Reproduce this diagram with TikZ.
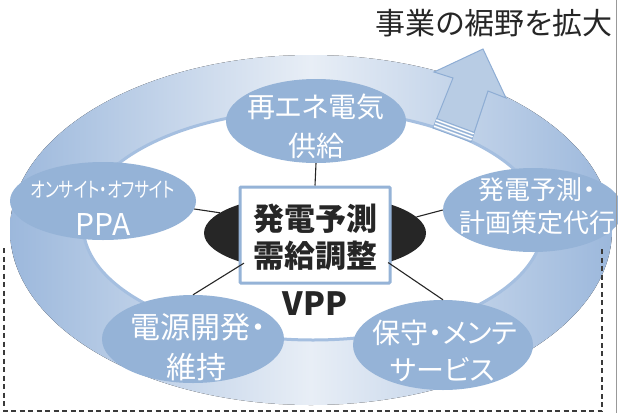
\documentclass[tikz,border=0pt]{standalone}
\usepackage{fontspec}
\usepackage{graphicx}
\setmainfont[RawFeature=+palt]{Noto Sans CJK JP}
\usetikzlibrary{shapes.geometric,calc}
\definecolor{satblue}{HTML}{95B3D7}
\definecolor{ringdark}{HTML}{9CB8DC}
\definecolor{ringlight}{HTML}{E8EEF6}
\definecolor{ringline}{HTML}{A5BFE0}
\definecolor{arrowfill}{HTML}{B8CCE4}
\definecolor{arrowline}{HTML}{8EADD4}
\definecolor{ink}{HTML}{262626}
\definecolor{frameink}{HTML}{3A3A3A}
\tikzset{
  sat/.style={shape=ellipse, fill=satblue, inner sep=0pt},
  conn/.style={draw=ink, line width=1.1pt},
  wt/.style={text=white, inner sep=0pt, anchor=center},
  bk/.style={text=ink, inner sep=0pt, anchor=center},
  frameline/.style={draw=frameink, line width=1.5pt, dash pattern=on 5pt off 3.5pt},
}
\begin{document}
\begin{tikzpicture}[x=1pt,y=-1pt]
\useasboundingbox (0,0) rectangle (618,413);
% ring
\fill[left color=ringdark, right color=ringdark, middle color=ringlight]
  (311,230) ellipse [x radius=301, y radius=175];
\draw[line width=3pt, draw=ringline, fill=white]
  (313,225) ellipse [x radius=230, y radius=115];
% growth arrow
\filldraw[fill=arrowfill, draw=arrowline, line width=1pt, line join=miter]
  (433,128) -- (453,78) -- (434,72) -- (483,49) -- (506,98) -- (488,91) -- (471,142) -- cycle;
\foreach \t in {0.04,0.10,0.16}{
  \draw[white, line width=1.2pt] ($(433,128)!\t!(453,78)$) -- ($(471,142)!\t!(488,91)$);
}
\foreach \t in {0.07,0.13,0.19}{
  \draw[arrowline, line width=0.8pt] ($(433,128)!\t!(453,78)$) -- ($(471,142)!\t!(488,91)$);
}
% satellites
\node[sat, minimum width=180pt, minimum height=84pt] (re) at (316,121) {};
\node[sat, minimum width=186pt, minimum height=78pt] (ppa) at (103,201) {};
\node[sat, minimum width=180pt, minimum height=84pt] (fc) at (533,210) {};
\node[sat, minimum width=182pt, minimum height=88pt] (dg) at (193,339) {};
\node[sat, minimum width=180pt, minimum height=90pt] (ms) at (443,345) {};
% hub
\node[shape=ellipse, fill=ink, minimum width=222pt, minimum height=78pt, inner sep=0pt] (hub) at (315,233) {};
\node[draw=satblue, line width=3pt, fill=white, minimum width=150pt, minimum height=96pt, inner sep=0pt, rounded corners=1pt] (core) at (315,235) {};
% connectors
\draw[conn] (re.south) -- (core.north);
\draw[conn] (ppa.-5) -- (hub.168);
\draw[conn] (fc.180) -- (hub.9);
\draw[conn] (dg.north) -- (hub.203);
\draw[conn] (ms.north) -- (hub.338);
% texts
\node[wt, font=\fontsize{28}{28}\selectfont] (re1) at (316,107) {再エネ電気};
\node[wt, font=\fontsize{28}{28}\selectfont] (re2) at (316,146) {供給};
\node[wt, font=\fontsize{21}{21}\selectfont] (ppa1) at (103,190) {\resizebox{144pt}{\height}{オンサイト・オフサイト}};
\node[wt, font=\fontsize{30}{30}\selectfont] (ppa2) at (103,224) {PPA};
\node[wt, font=\fontsize{26}{26}\selectfont] (fc1) at (537,190) {発電予測・};
\node[wt, font=\fontsize{26}{26}\selectfont] (fc2) at (537,223) {計画策定代行};
\node[wt, font=\fontsize{30}{30}\selectfont] (dg1) at (198,327) {電源開発・};
\node[wt, font=\fontsize{30}{30}\selectfont] (dg2) at (196,367) {維持};
\node[wt, font=\fontsize{28}{28}\selectfont] (ms1) at (445,333) {保守・メンテ};
\node[wt, font=\fontsize{28}{28}\selectfont] (ms2) at (443,370) {サービス};
\node[bk, font=\fontsize{31}{31}\selectfont\bfseries] (cr1) at (315,219) {発電予測};
\node[bk, font=\fontsize{31}{31}\selectfont\bfseries] (cr2) at (315,256) {需給調整};
\node[bk, font=\fontsize{32}{32}\selectfont\bfseries] (vpp) at (315,304) {VPP};
\node[bk, font=\fontsize{30}{30}\selectfont] (title) at (494,23) {事業の裾野を拡大};
% frame
\draw[frameline] (4,248) -- (4,411) -- (602,411) -- (602,248);
\draw[draw=black!40, line width=0.8pt] (616.5,0) -- (616.5,413);
\end{tikzpicture}
\end{document}
